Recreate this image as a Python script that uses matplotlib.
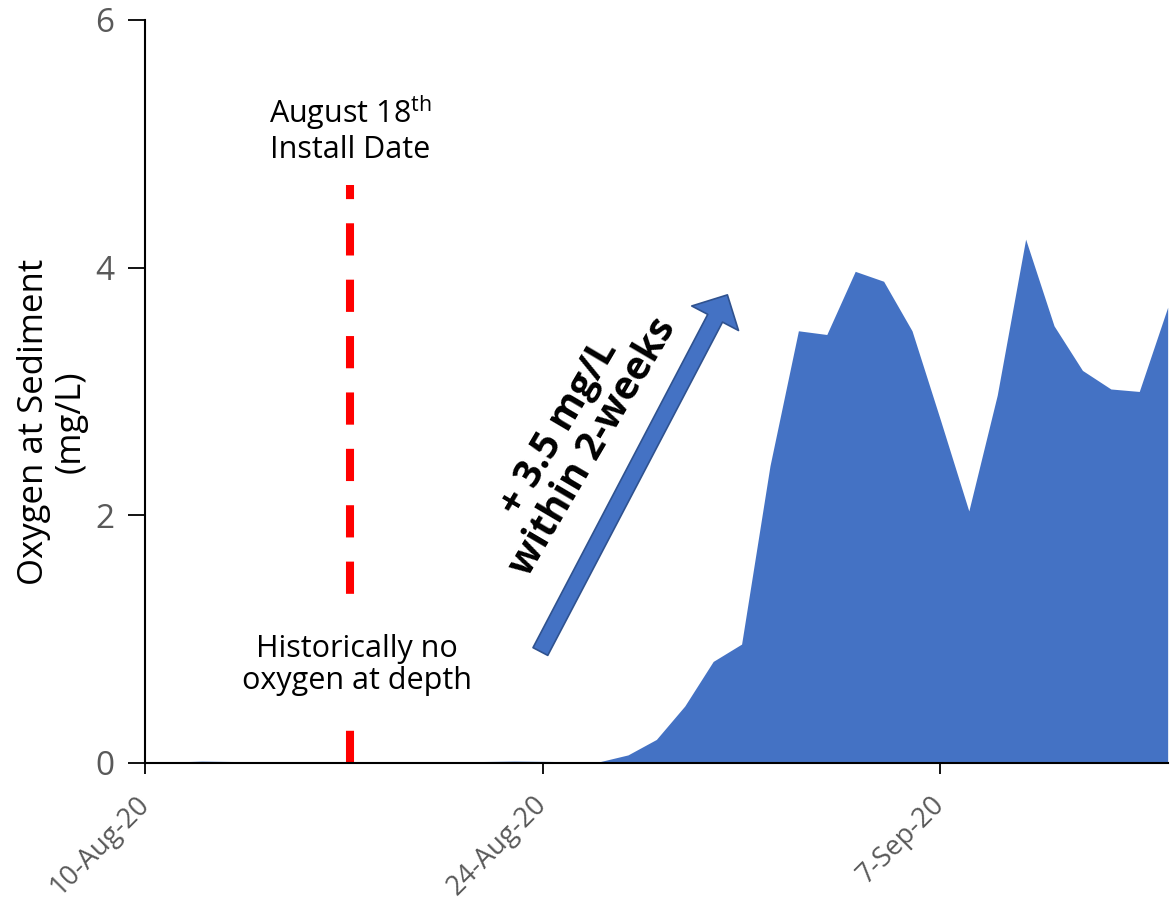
"""
oxygen at sediment area chart with install date marker
"""

import matplotlib
matplotlib.use("Agg")
import matplotlib.pyplot as plt
import matplotlib.dates as mdates
from matplotlib.patches import FancyArrowPatch
import pandas as pd

plt.rcParams['font.family'] = ['Open Sans', 'DejaVu Sans']
plt.rcParams['mathtext.fontset'] = 'custom'
plt.rcParams['mathtext.rm'] = 'Open Sans'

# daily readings, 10-Aug-20 .. 15-Sep-20
dates = pd.date_range("2020-08-10", "2020-09-15", freq="D")
oxygen = [0.0, 0.008, 0.015, 0.012, 0.01, 0.01, 0.01, 0.01, 0.01, 0.01,
          0.01, 0.01, 0.012, 0.015, 0.013, 0.01, 0.01, 0.065, 0.19, 0.46,
          0.82, 0.96, 2.40, 3.49, 3.46, 3.97, 3.89, 3.49, 2.77, 2.035,
          2.97, 4.23, 3.53, 3.17, 3.02, 3.00, 3.68]

tick_dates = pd.to_datetime(["2020-08-10", "2020-08-24", "2020-09-07"])
tick_labels = ["10-Aug-20", "24-Aug-20", "7-Sep-20"]
y_ticks = [0, 2, 4, 6]

install_date = pd.Timestamp("2020-08-17 05:15")
install_top = 4.67
arrow_start = (pd.Timestamp("2020-08-23 22:00"), 0.9)
arrow_end = (pd.Timestamp("2020-08-30 12:00"), 3.78)

fig = plt.figure(figsize=(11.7, 9.07), dpi=100)
ax = fig.add_axes([0.124, 0.1588, 0.874, 0.8192])

ax.fill_between(dates, oxygen, 0, color="#4472C4", linewidth=0)

# install date marker
ax.plot([install_date, install_date], [0, install_top], color="#FF0000",
        linewidth=5.8, dashes=(4, 3), solid_capstyle="butt", dash_capstyle="butt")

ax.text(pd.Timestamp("2020-08-17 05:15"), 5.12,
        "August 18$^{\\mathrm{th}}$\nInstall Date",
        ha="center", va="center", fontsize=22, linespacing=1.1)
ax.text(pd.Timestamp("2020-08-17 11:00"), 0.79,
        "Historically no\noxygen at depth",
        ha="center", va="center", fontsize=22, linespacing=1.1, zorder=4,
        bbox=dict(boxstyle="square,pad=1.0", facecolor="white", edgecolor="none"))

# rise arrow
x0 = mdates.date2num(arrow_start[0])
x1 = mdates.date2num(arrow_end[0])
arrow = FancyArrowPatch((x0, arrow_start[1]), (x1, arrow_end[1]),
                        arrowstyle="simple,head_length=19,head_width=38,tail_width=12",
                        mutation_scale=1, shrinkA=0, shrinkB=0,
                        facecolor="#4472C4", edgecolor="#2F528F", linewidth=1.2)
ax.add_patch(arrow)
ax.text(pd.Timestamp("2020-08-25 04:00"), 2.63, "+ 3.5 mg/L\nwithin 2-weeks",
        ha="center", va="center", rotation=59.5, rotation_mode="anchor",
        fontsize=28, fontweight="bold", linespacing=1.0)

ax.set_xlim(dates[0], dates[-1])
ax.set_ylim(0, 6)
ax.set_xticks(tick_dates)
ax.set_xticklabels(tick_labels, rotation=45, ha="right", va="center",
                   rotation_mode="anchor", color="#595959", fontsize=19.5)
ax.set_yticks(y_ticks)
ax.set_yticklabels([str(v) for v in y_ticks], color="#595959", fontsize=24)
ax.tick_params(axis="x", length=8, width=1.3, pad=19)
ax.tick_params(axis="y", length=12, width=1.3, pad=10)

for side in ["top", "right"]:
    ax.spines[side].set_visible(False)
for side in ["left", "bottom"]:
    ax.spines[side].set_linewidth(1.5)
ax.spines["left"].set_zorder(5)

ax.set_ylabel("Oxygen at Sediment\n(mg/L)", fontsize=25, linespacing=1.1)
ax.yaxis.set_label_coords(-0.056, 0.459)

fig.savefig("out.png", dpi=100)
